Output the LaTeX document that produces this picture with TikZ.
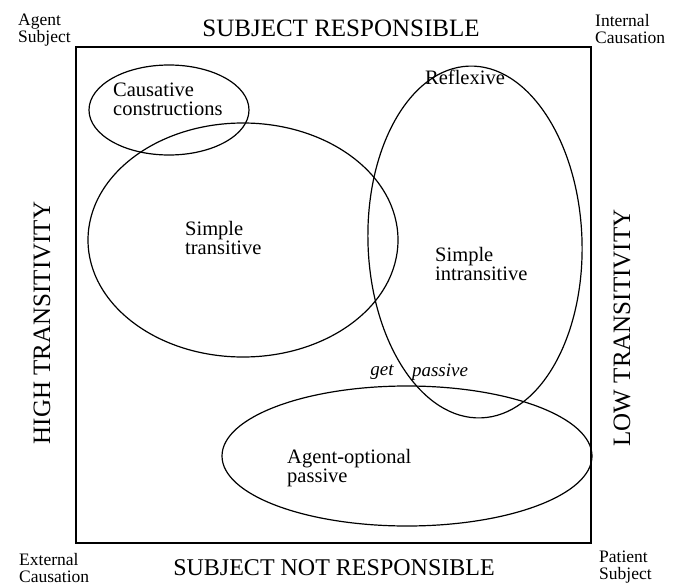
\documentclass[tikz,border=0pt]{standalone}
\usepackage{fontspec}
\setmainfont{Liberation Serif}
\begin{document}
\begin{tikzpicture}[x=1pt,y=-1pt,
  region/.style={draw=black,line width=1.2pt},
  caps/.style={font=\fontsize{25}{27}\selectfont},
  corner/.style={font=\fontsize{17.5}{17}\selectfont,align=left,inner sep=0pt},
  lab/.style={font=\fontsize{20.5}{19}\selectfont,align=left,inner sep=0pt}]
\useasboundingbox (0,0) rectangle (683,586);
% frame
\draw[line width=1.2pt] (76,47) rectangle (591,543);
% sets of constructions
\draw[region] (169,110) ellipse [x radius=80,y radius=45];
\draw[region] (243,240) ellipse [x radius=155,y radius=117];
\draw[region,rotate around={2:(475,242)}] (475,242) ellipse [x radius=107,y radius=176];
\draw[region] (407,456) ellipse [x radius=185,y radius=70];
% labels inside
\node[lab,anchor=west] (caus) at (113,99) {Causative\\constructions};
\node[lab,anchor=west] (trans) at (185,238) {Simple\\transitive};
\node[lab] (refl) at (465,77) {Reflexive};
\node[lab,anchor=west] (intr) at (435,264) {Simple\\intransitive};
\node[lab,anchor=west] (agt) at (287,468) {Agent-optional\\passive};
\node[lab,font=\fontsize{19}{19}\itshape] (get) at (382,372) {get};
\node[lab,font=\fontsize{19}{19}\itshape] (pass) at (440,372) {passive};
% side labels
\node[caps] (top) at (341,28) {SUBJECT RESPONSIBLE};
\node[caps,font=\fontsize{24}{26}\selectfont] (bot) at (334,568) {SUBJECT NOT RESPONSIBLE};
\node[caps,rotate=90] (left) at (42,323) {HIGH TRANSITIVITY};
\node[caps,rotate=90] (right) at (622,328) {LOW TRANSITIVITY};
% corners
\node[corner,anchor=south west] (tl) at (18,46) {Agent\\Subject};
\node[corner,anchor=south west] (tr) at (595,44) {Internal\\Causation};
\node[corner,anchor=north west] (bl) at (19,553) {External\\Causation};
\node[corner,anchor=north west] (br) at (599,551) {Patient\\Subject};
\end{tikzpicture}
\end{document}
